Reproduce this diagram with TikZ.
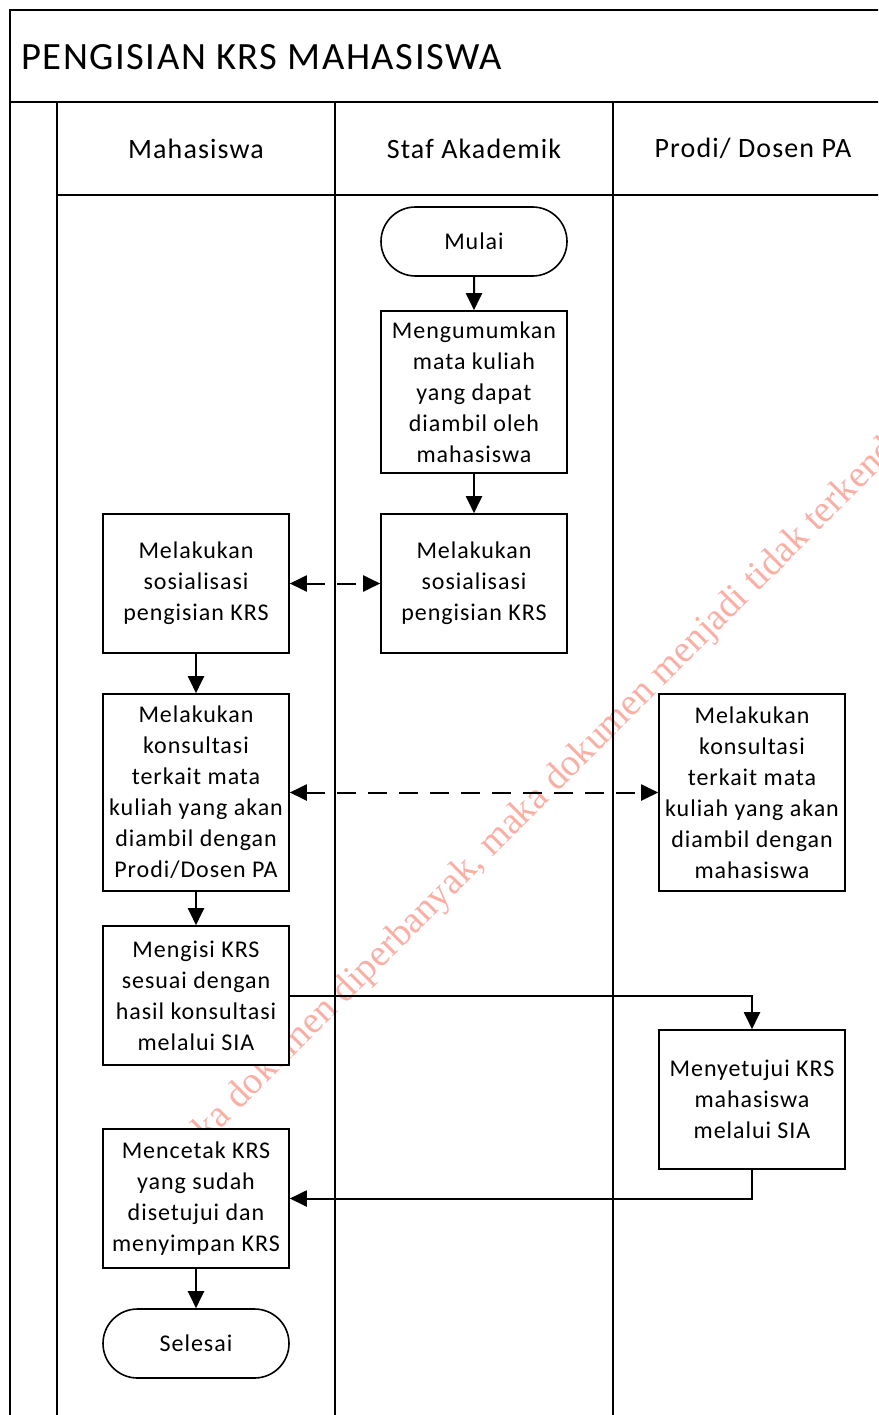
\documentclass[tikz,border=0pt]{standalone}
\usepackage{fontspec}
\setmainfont{Carlito}[LetterSpace=4]
\newfontfamily\wmfont{Liberation Serif}
\usetikzlibrary{arrows.meta,shapes.misc}
\definecolor{wmcol}{RGB}{250,175,165}
\begin{document}
\begin{tikzpicture}[x=1pt,y=-1pt,
  every node/.style={inner sep=0pt},
  lane/.style={line width=1.6pt},
  proc/.style={draw, line width=1.6pt, fill=white, minimum width=186pt, align=center, font=\fontsize{24}{31}\selectfont},
  term/.style={proc, rounded rectangle, minimum height=69pt},
  hdr/.style={font=\fontsize{28}{32}\selectfont},
  flow/.style={line width=2pt, -{Triangle[length=17pt,width=16pt]}},
  dflow/.style={line width=2pt, {Triangle[length=17pt,width=16pt]}-{Triangle[length=17pt,width=16pt]}, dash pattern=on 19pt off 12pt},
  wmark/.style={anchor=base west, rotate=45, text=wmcol, font=\wmfont\fontsize{38}{38}\selectfont}
]
\useasboundingbox (0,0) rectangle (878,1415);
\clip (0,0) rectangle (878,1415);
\fill[white] (0,0) rectangle (878,1415);

% watermark
\node[wmark] (wm) at (189,1161) {Jika dokumen diperbanyak, maka dokumen menjadi tidak terkendali};

% pool and lanes
\draw[lane] (890,10) -- (10,10) -- (10,1430);
\draw[lane] (10,102) -- (890,102);
\draw[lane] (57,102) -- (57,1430);
\draw[lane] (335,102) -- (335,1430);
\draw[lane] (613,102) -- (613,1430);
\draw[lane] (57,195) -- (890,195);

\node[anchor=west, font=\fontsize{38.6}{40}\selectfont] (title) at (21,57) {PENGISIAN KRS MAHASISWA};
\node[hdr] (h1) at (196,148.5) {Mahasiswa};
\node[hdr] (h2) at (474,148.5) {Staf Akademik};
\node[hdr] (h3) at (753,148.5) {Prodi/ Dosen PA};

% nodes
\node[term] (mulai) at (474,241.5) {Mulai};
\node[proc, minimum height=162pt] (umum) at (474,392) {Mengumumkan\\mata kuliah\\yang dapat\\diambil oleh\\mahasiswa};
\node[proc, minimum height=139pt] (sosS) at (474,583.5) {Melakukan\\sosialisasi\\pengisian KRS};
\node[proc, minimum height=139pt] (sosM) at (196,583.5) {Melakukan\\sosialisasi\\pengisian KRS};
\node[proc, minimum height=197pt] (konM) at (196,792.5) {Melakukan\\konsultasi\\terkait mata\\kuliah yang akan\\diambil dengan\\Prodi/Dosen PA};
\node[proc, minimum height=197pt] (konP) at (752,792.5) {Melakukan\\konsultasi\\terkait mata\\kuliah yang akan\\diambil dengan\\mahasiswa};
\node[proc, minimum height=139pt] (isi) at (196,995.5) {Mengisi KRS\\sesuai dengan\\hasil konsultasi\\melalui SIA};
\node[proc, minimum height=139pt] (setuju) at (752,1099.5) {Menyetujui KRS\\mahasiswa\\melalui SIA};
\node[proc, minimum height=139pt] (cetak) at (196,1198.5) {Mencetak KRS\\yang sudah\\disetujui dan\\menyimpan KRS};
\node[term] (selesai) at (196,1343.5) {Selesai};

% connectors
\draw[flow] (mulai) -- (umum);
\draw[flow] (umum) -- (sosS);
\draw[dflow] (sosM) -- (sosS);
\draw[flow] (sosM) -- (konM);
\draw[dflow] (konM) -- (konP);
\draw[flow] (konM) -- (isi);
\draw[flow] (isi.east) -| (setuju.north);
\draw[flow] (setuju.south) |- (cetak.east);
\draw[flow] (cetak) -- (selesai);
\end{tikzpicture}
\end{document}
